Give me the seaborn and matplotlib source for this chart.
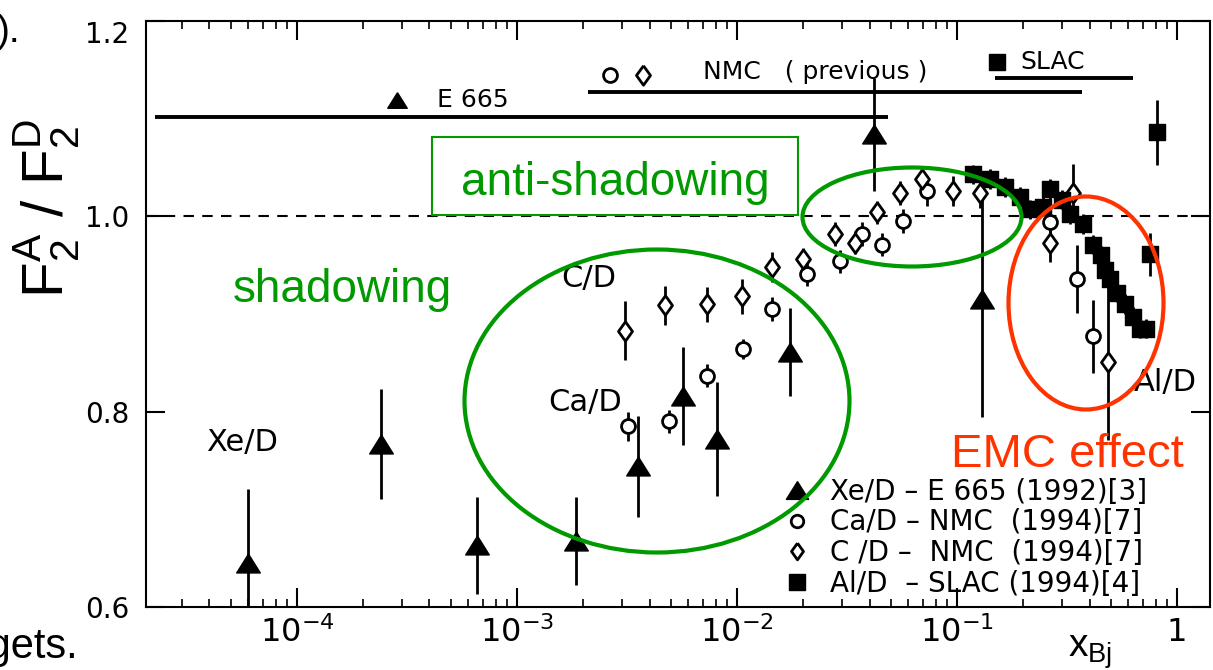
import numpy as np
import matplotlib
matplotlib.use('Agg')
import matplotlib.pyplot as plt
import seaborn as sns
from matplotlib.patches import Ellipse, Rectangle
from matplotlib.lines import Line2D
from matplotlib.ticker import LogLocator, NullFormatter

# ---- data ----
# Xe/D - E665 (1992), filled triangles
xe_x = [6.0e-5, 2.4e-4, 6.6e-4, 1.85e-3, 3.55e-3, 5.7e-3, 8.1e-3, 0.0174, 0.042, 0.13]
xe_y = [0.645, 0.767, 0.663, 0.668, 0.744, 0.816, 0.772, 0.861, 1.084, 0.915]
xe_err = [0.076, 0.056, 0.050, 0.045, 0.052, 0.050, 0.058, 0.045, 0.058, 0.120]

# Ca/D - NMC (1994), open circles
ca_x = [3.2e-3, 4.9e-3, 7.3e-3, 0.0106, 0.0144, 0.0208, 0.0294, 0.037, 0.0456, 0.0568,
        0.0731, 0.265, 0.351, 0.415]
ca_y = [0.785, 0.790, 0.837, 0.864, 0.905, 0.941, 0.954, 0.982, 0.971, 0.995,
        1.026, 0.994, 0.936, 0.877]
ca_err = [0.015, 0.012, 0.012, 0.010, 0.012, 0.012, 0.012, 0.012, 0.012, 0.012,
          0.015, 0.020, 0.035, 0.037]

# C/D - NMC (1994), open diamonds
c_x = [3.1e-3, 4.7e-3, 7.3e-3, 0.0105, 0.0144, 0.020, 0.0279, 0.0344, 0.0433, 0.0551,
       0.0693, 0.0959, 0.127, 0.265, 0.337, 0.486]
c_y = [0.883, 0.909, 0.910, 0.918, 0.948, 0.956, 0.982, 0.973, 1.004, 1.024,
       1.038, 1.026, 1.024, 0.973, 1.024, 0.851]
c_err = [0.030, 0.020, 0.018, 0.018, 0.015, 0.012, 0.012, 0.012, 0.012, 0.012,
         0.012, 0.015, 0.015, 0.020, 0.030, 0.080]

# Al/D - SLAC (1994), filled squares
al_x = [0.118, 0.141, 0.165, 0.193, 0.215, 0.245, 0.265, 0.30, 0.327, 0.374, 0.415,
        0.45, 0.471, 0.496, 0.533, 0.58, 0.631, 0.675, 0.72, 0.754, 0.811]
al_y = [1.043, 1.038, 1.030, 1.020, 1.007, 1.010, 1.028, 1.017, 1.002, 0.992, 0.971,
        0.960, 0.945, 0.936, 0.922, 0.910, 0.897, 0.885, 0.885, 0.961, 1.086]
al_err = [0.010, 0.010, 0.010, 0.010, 0.010, 0.010, 0.010, 0.010, 0.010, 0.010, 0.010,
          0.010, 0.010, 0.010, 0.010, 0.010, 0.010, 0.010, 0.010, 0.022, 0.033]

# x ranges of the experiments (bars at the top)
range_lo = [2.26e-5, 2.1e-3, 0.149]
range_hi = [0.0486, 0.37, 0.63]
range_y = [1.102, 1.127, 1.142]

x_ticks = [1e-4, 1e-3, 1e-2, 1e-1, 1]
x_labels = [r'$10^{-4}$', r'$10^{-3}$', r'$10^{-2}$', r'$10^{-1}$', '1']
y_ticks = [0.6, 0.8, 1.0, 1.2]
y_labels = ['0.6', '0.8', '1.0', '1.2']

legend_labels = ['Xe/D \u2013 E 665 (1992)[3]',
                 'Ca/D \u2013 NMC  (1994)[7]',
                 'C /D \u2013  NMC  (1994)[7]',
                 'Al/D  \u2013 SLAC (1994)[4]']

GREEN = '#009900'
RED = '#ff3300'
TRI = [(0, 0.8), (-1, -0.8), (1, -0.8), (0, 0.8)]
DIA = [(0, 1), (0.72, 0), (0, -1), (-0.72, 0), (0, 1)]

sns.set_theme(style='ticks')
plt.rcParams['font.family'] = ['DejaVu Sans']
plt.rcParams['text.color'] = 'black'
plt.rcParams['axes.labelcolor'] = 'black'
plt.rcParams['xtick.color'] = 'black'
plt.rcParams['ytick.color'] = 'black'
plt.rcParams['axes.edgecolor'] = 'black'
plt.rcParams['axes.linewidth'] = 1.5

W, H = 1213, 670
fig = plt.figure(figsize=(W / 100, H / 100), dpi=100)
ax = fig.add_axes([146 / W, (H - 607) / H, (1210 - 146) / W, (607 - 21) / H])
T = fig.dpi_scale_trans


def px(x, y):
    # figure pixel position (from top-left) -> inches for dpi_scale_trans
    return x / 100, (H - y) / 100


# reference line and experiment ranges
ax.axhline(1.0, color='black', lw=1.5, ls=(0, (5, 4)), zorder=1)
ax.hlines(range_y, range_lo, range_hi, color='black', lw=2.8, zorder=1)

# error bars
for xs, ys, es in [(xe_x, xe_y, xe_err), (ca_x, ca_y, ca_err),
                   (c_x, c_y, c_err), (al_x, al_y, al_err)]:
    ax.errorbar(xs, ys, yerr=es, fmt='none', ecolor='black', elinewidth=2,
                capsize=0, zorder=2)

# markers
sns.scatterplot(x=xe_x, y=xe_y, marker=TRI, s=17 ** 2, color='black',
                edgecolor='black', linewidth=1, ax=ax, zorder=3, legend=False)
sns.scatterplot(x=ca_x, y=ca_y, marker='o', s=10 ** 2, facecolor='white',
                edgecolor='black', linewidth=2, ax=ax, zorder=3, legend=False)
sns.scatterplot(x=c_x, y=c_y, marker=DIA, s=14 ** 2, facecolor='white',
                edgecolor='black', linewidth=2, ax=ax, zorder=3, legend=False)
sns.scatterplot(x=al_x, y=al_y, marker='s', s=12 ** 2, color='black',
                edgecolor='black', linewidth=1, ax=ax, zorder=3, legend=False)

ax.set_xscale('log')
ax.set_xlim(2.06e-5, 1.41)
ax.set_ylim(0.6, 1.2)
ax.set_xticks(x_ticks, labels=x_labels)
ax.xaxis.set_minor_locator(LogLocator(base=10, subs=np.arange(2, 10)))
ax.xaxis.set_minor_formatter(NullFormatter())
ax.set_yticks(y_ticks, labels=y_labels)
ax.tick_params(axis='both', which='major', direction='in', length=14, width=1.5,
               top=True, right=True, color='black', labelcolor='black')
ax.tick_params(axis='x', which='major', labelsize=23, pad=7)
ax.tick_params(axis='y', which='major', labelsize=20, pad=12)
ax.tick_params(axis='x', which='minor', direction='in', length=6, width=1.2,
               top=True, color='black')
ax.tick_params(axis='y', which='minor', left=False, right=False)
ax.yaxis.get_major_ticks()[-1].label1.set_verticalalignment('top')
ax.grid(False)

ax.set_xlabel(r'x$_\mathregular{Bj}$', fontsize=28, family='Liberation Sans')
ax.xaxis.set_label_coords(0.887, -0.045)
ax.set_ylabel(r'F$_\mathregular{2}^\mathregular{A}$ / F$_\mathregular{2}^\mathregular{D}$',
              fontsize=42, family='Liberation Sans')
ax.yaxis.set_label_coords(-0.06, 0.68)

# header keys of the experiment ranges
ax.plot(*px(397, 100), marker=TRI, ms=14, color='black', transform=T)
ax.text(*px(437, 100), 'E 665', fontsize=18, va='center', transform=T)
ax.plot(*px(610, 75), marker='o', ms=10, mfc='white', mec='black', mew=2, transform=T)
ax.plot(*px(643, 75), marker=DIA, ms=14, mfc='white', mec='black', mew=2, transform=T)
ax.text(*px(703, 72), 'NMC   ( previous )', fontsize=18, va='center', transform=T)
ax.plot(*px(997, 62), marker='s', ms=11, color='black', transform=T)
ax.text(*px(1020, 62), 'SLAC', fontsize=18, va='center', transform=T)

# labels printed inside the original figure
ax.text(*px(589, 279), 'C/D', fontsize=22, ha='center', va='center', transform=T)
ax.text(*px(585, 402), 'Ca/D', fontsize=22, ha='center', va='center', transform=T)
ax.text(*px(242, 442), 'Xe/D', fontsize=22, ha='center', va='center', transform=T)
ax.text(*px(1165, 383), 'Al/D', fontsize=22, ha='center', va='center', transform=T)

handles = [Line2D([], [], ls='none', marker=TRI, ms=16, color='black'),
           Line2D([], [], ls='none', marker='o', ms=9, mfc='white', mec='black', mew=2),
           Line2D([], [], ls='none', marker=DIA, ms=12, mfc='white', mec='black', mew=2),
           Line2D([], [], ls='none', marker='s', ms=12, color='black')]
ax.legend(handles, legend_labels, loc='upper left', bbox_to_anchor=px(784, 478),
          bbox_transform=T, frameon=False, fontsize=20, handlelength=0.95,
          handletextpad=0.7, labelspacing=0.09, borderpad=0, borderaxespad=0)

# slide annotations
fig.add_artist(Ellipse(px(657, 401), 385 / 100, 303 / 100, transform=T,
                       fill=False, edgecolor=GREEN, lw=3, zorder=5))
fig.add_artist(Ellipse(px(912, 217), 219 / 100, 99 / 100, transform=T,
                       fill=False, edgecolor=GREEN, lw=3, zorder=5))
fig.add_artist(Ellipse(px(1086, 303), 155 / 100, 213 / 100, transform=T,
                       fill=False, edgecolor=RED, lw=3, zorder=5))
fig.add_artist(Rectangle(px(432, 215), 366 / 100, 78 / 100, transform=T,
                         facecolor='white', edgecolor=GREEN, lw=1.5, zorder=4))
fig.text(*px(615, 183), 'anti-shadowing', fontsize=33, color=GREEN, ha='center',
         va='center', family='Liberation Sans', transform=T, zorder=6)
fig.text(*px(342, 290), 'shadowing', fontsize=33, color=GREEN, ha='center',
         va='center', family='Liberation Sans', transform=T, zorder=6)
fig.text(*px(1067, 467), 'EMC effect', fontsize=34, color=RED, ha='center',
         va='baseline', family='Liberation Sans', transform=T, zorder=6)

# fragments of the surrounding slide text
fig.text(*px(-3, 42), ').', fontsize=28, va='baseline', family='Liberation Sans', transform=T)
fig.text(*px(78, 658), 'targets.', fontsize=30, ha='right', va='baseline',
         family='Liberation Sans', transform=T)

fig.savefig('out.png', dpi=100, facecolor='white')
